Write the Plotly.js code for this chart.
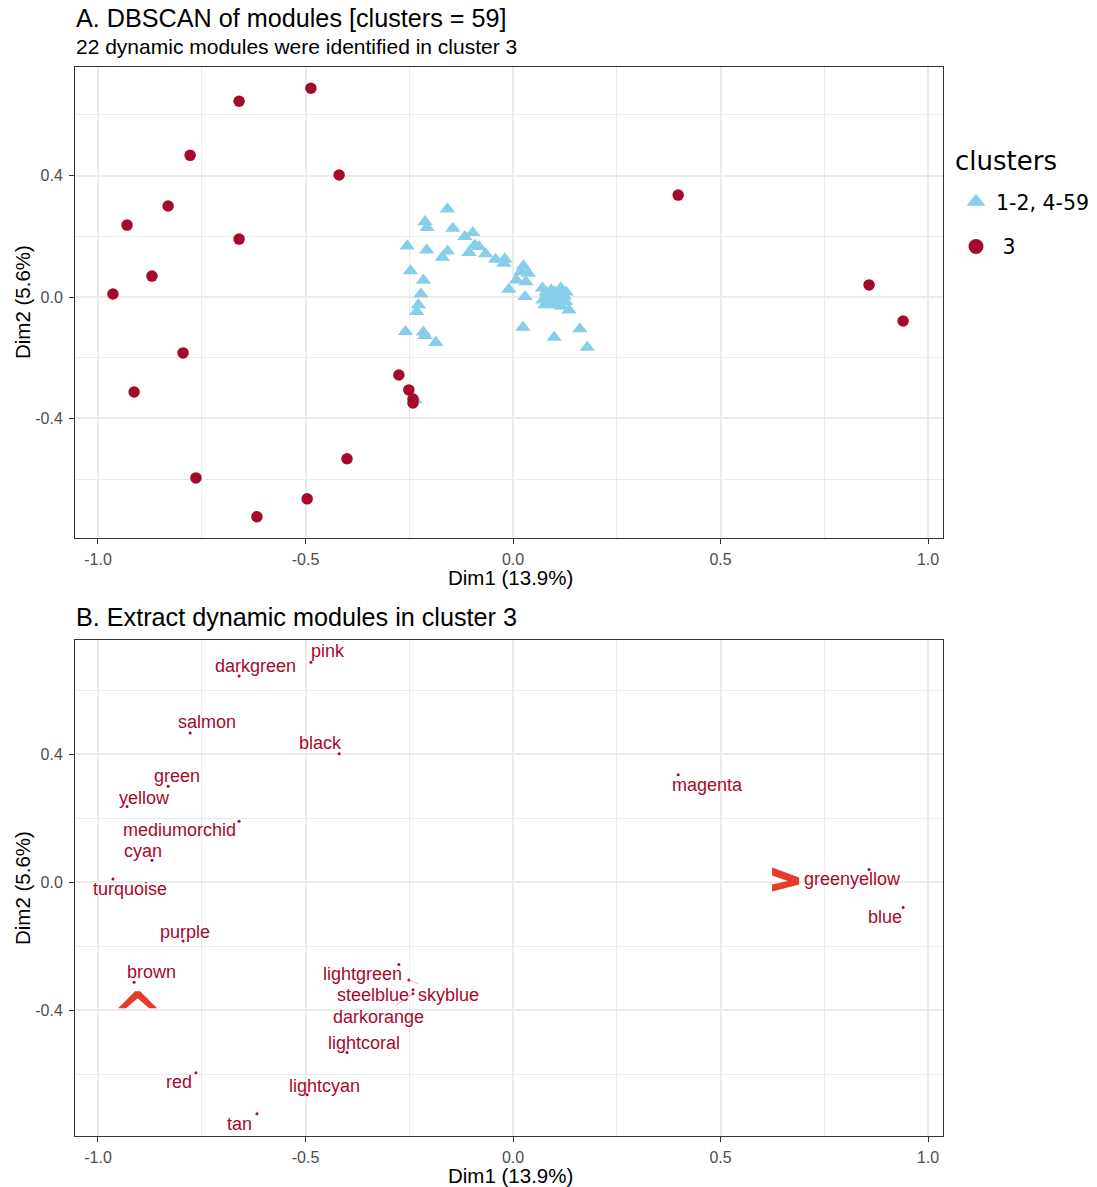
<!DOCTYPE html>
<html>
<head>
<meta charset="utf-8">
<script src="https://cdn.plot.ly/plotly-3.0.1.min.js"></script>
<style>html,body{margin:0;padding:0;background:#fff;}#chart{width:1097px;height:1187px;}</style>
</head>
<body>
<div id="chart"></div>
<script>
// ---------------- DATA ----------------
const modules = ['darkgreen','pink','salmon','black','green','yellow','mediumorchid','cyan','turquoise','purple','brown','lightgreen','skyblue','steelblue','darkorange','lightcoral','red','lightcyan','tan','magenta','greenyellow','blue'];
const moduleDim1 = [-0.660,-0.487,-0.778,-0.419,-0.831,-0.930,-0.660,-0.870,-0.964,-0.795,-0.913,-0.275,-0.251,-0.241,-0.241,-0.400,-0.764,-0.496,-0.617,0.398,0.858,0.940];
const moduleDim2 = [0.645,0.688,0.467,0.402,0.300,0.237,0.191,0.069,0.010,-0.184,-0.313,-0.257,-0.306,-0.336,-0.349,-0.533,-0.596,-0.665,-0.724,0.336,0.040,-0.079];

const otherDim1 = [-0.158,-0.212,-0.207,-0.145,-0.116,-0.097,-0.255,-0.208,-0.158,-0.170,-0.092,-0.082,-0.106,-0.066,-0.042,-0.020,-0.022,-0.247,-0.216,-0.222,-0.228,-0.232,-0.259,-0.216,-0.212,-0.186,-0.010,0.025,0.019,0.037,0.008,0.031,0.029,0.071,0.088,0.115,0.119,0.077,0.099,0.085,0.127,0.135,0.024,0.099,0.161,0.179,-0.236,0.082,0.101,0.108,0.092,0.123,0.106,0.072,0.116,0.094,0.128,0.080];
const otherDim2 = [0.290,0.248,0.229,0.226,0.199,0.212,0.168,0.155,0.151,0.131,0.171,0.166,0.146,0.142,0.124,0.125,0.111,0.086,0.055,0.010,-0.026,-0.048,-0.114,-0.116,-0.127,-0.150,0.025,0.102,0.083,0.078,0.056,0.050,0.001,0.029,0.012,0.029,0.012,-0.026,-0.026,-0.010,-0.015,-0.043,-0.100,-0.133,-0.105,-0.166,-0.339,0.003,0.016,-0.003,0.023,0.003,-0.020,-0.010,-0.030,-0.003,0.016,0.016];

const clusterNames = ['1-2, 4-59', '\u00a03'];
const xTickVals = [-1.0, -0.5, 0.0, 0.5, 1.0];
const xTickText = ['-1.0', '-0.5', '0.0', '0.5', '1.0'];
const xMinorVals = [-0.75, -0.25, 0.25, 0.75];
const yTickVals = [-0.4, 0.0, 0.4];
const yTickText = ['-0.4', '0.0', '0.4'];
const yMinorVals = [-0.6, -0.2, 0.2, 0.6];

// ---------------- STYLE ----------------
const RED = '#A50A2C';
const SKY = '#87CEEB';
const ARROW = '#E63A2A';
const FONT = 'Liberation Sans, Arial, sans-serif';
// label offsets in pixels [dx, dy(down)] relative to the point
const labelShift = {
  darkgreen:[16,-10], pink:[17,-11], salmon:[17,-11], black:[-19,-11], green:[9,-10], yellow:[17,-9],
  mediumorchid:[-60,9], cyan:[-9,-9], turquoise:[17,10], purple:[2,-9], brown:[17,-10],
  lightgreen:[-36,10], skyblue:[40,15], steelblue:[-40,5], darkorange:[-34,23], lightcoral:[17,-10],
  red:[-17,9], lightcyan:[17,-9], tan:[-17,10], magenta:[29,10], greenyellow:[-17,10], blue:[-18,10]
};
const withSegment = ['skyblue', 'darkorange'];

const W = 1097, H = 1187;
const M = {l:75, r:154, t:67, b:51, autoexpand: false};
const PW = W - M.l - M.r, PH = H - M.t - M.b;
const px = p => (p - M.l) / PW;
const py = p => (H - M.b - p) / PH;

const xr = [-1.0554, 1.0361];
const yr = [-0.794, 0.758];

function axisX(anchor) {
  return {
    anchor: anchor, range: xr, domain: [0,1],
    tickmode: 'array', tickvals: xTickVals, ticktext: xTickText,
    ticks: 'outside', ticklen: 5, tickwidth: 1, tickcolor: '#333333',
    ticklabelstandoff: 2,
    tickfont: {family: FONT, size: 16, color: '#4d4d4d'},
    showgrid: true, gridcolor: '#ebebeb', gridwidth: 2,
    minor: {tickmode: 'array', tickvals: xMinorVals, showgrid: true, gridcolor: '#ebebeb', gridwidth: 1, ticks: ''},
    zeroline: false, showline: true, linecolor: '#333333', linewidth: 1, mirror: true,
    fixedrange: true
  };
}
function axisY(anchor, domain) {
  return {
    anchor: anchor, range: yr, domain: domain,
    tickmode: 'array', tickvals: yTickVals, ticktext: yTickText,
    ticks: 'outside', ticklen: 5, tickwidth: 1, tickcolor: '#333333',
    ticklabelstandoff: 3,
    tickfont: {family: FONT, size: 16, color: '#4d4d4d'},
    showgrid: true, gridcolor: '#ebebeb', gridwidth: 2,
    minor: {tickmode: 'array', tickvals: yMinorVals, showgrid: true, gridcolor: '#ebebeb', gridwidth: 1, ticks: ''},
    zeroline: false, showline: true, linecolor: '#333333', linewidth: 1, mirror: true,
    fixedrange: true
  };
}

const traces = [
  {
    type: 'scatter', mode: 'markers', x: otherDim1, y: otherDim2, xaxis: 'x', yaxis: 'y',
    showlegend: false,
    marker: {symbol: 'triangle-up', size: 13.5, color: SKY, line: {width: 0}},
    hoverinfo: 'skip'
  },
  {
    type: 'scatter', mode: 'markers', x: moduleDim1, y: moduleDim2, xaxis: 'x', yaxis: 'y',
    showlegend: false,
    marker: {symbol: 'circle', size: 11.5, color: RED, line: {width: 0}},
    hoverinfo: 'skip'
  },
  // legend keys (enlarged, like ggplot override.aes)
  {
    type: 'scatter', mode: 'markers', x: [null], y: [null], xaxis: 'x', yaxis: 'y',
    name: clusterNames[0], legendgroup: 'a',
    marker: {symbol: 'triangle-up', size: 16, color: SKY, line: {width: 0}}
  },
  {
    type: 'scatter', mode: 'markers', x: [null], y: [null], xaxis: 'x', yaxis: 'y',
    name: clusterNames[1], legendgroup: 'b',
    marker: {symbol: 'circle', size: 15, color: RED, line: {width: 0}}
  },
  {
    type: 'scatter', mode: 'markers', x: moduleDim1, y: moduleDim2, xaxis: 'x2', yaxis: 'y2',
    showlegend: false,
    marker: {symbol: 'circle', size: 3, color: RED, line: {width: 0}},
    hoverinfo: 'skip'
  }
];

const annotations = [];
function txt(text, x, y, size, opts) {
  annotations.push(Object.assign({
    text: text, xref: 'paper', yref: 'paper', x: px(x), y: py(y),
    xanchor: 'left', yanchor: 'middle', showarrow: false,
    font: {family: FONT, size: size, color: '#000'}
  }, opts || {}));
}
txt('A. DBSCAN of modules [clusters = 59]', 74, 18, 25.2);
txt('22 dynamic modules were identified in cluster 3', 74, 47, 21);
txt('B. Extract dynamic modules in cluster 3', 74, 617, 25.2);
txt('Dim1 (13.9%)', 510, 577, 20.5, {xanchor: 'center'});
txt('Dim1 (13.9%)', 510, 1175, 20.5, {xanchor: 'center'});
txt('Dim2 (5.6%)', 22, 302, 20.5, {xanchor: 'center', textangle: -90});
txt('Dim2 (5.6%)', 22, 888, 20.5, {xanchor: 'center', textangle: -90});
txt('clusters', 953, 161, 26, {font: {family: 'DejaVu Sans, sans-serif', size: 26, color: '#000'}});

modules.forEach((m, i) => {
  const s = labelShift[m];
  const base = {
    text: m, xref: 'x2', yref: 'y2', x: moduleDim1[i], y: moduleDim2[i],
    xanchor: 'center', yanchor: 'middle',
    font: {family: FONT, size: 18, color: RED}
  };
  if (withSegment.indexOf(m) >= 0) {
    annotations.push(Object.assign(base, {
      showarrow: true, ax: s[0], ay: s[1], arrowhead: 0, arrowwidth: 0.7,
      arrowcolor: '#e2858f', standoff: 0, startstandoff: 0
    }));
  } else {
    annotations.push(Object.assign(base, {showarrow: false, xshift: s[0], yshift: -s[1]}));
  }
});

// chevron pointers (pixel paths anchored at a module point)
const gi = modules.indexOf('greenyellow');
const bi = modules.indexOf('brown');
const shapes = [
  {
    type: 'path', xref: 'x2', yref: 'y2', xsizemode: 'pixel', ysizemode: 'pixel',
    xanchor: moduleDim1[gi], yanchor: moduleDim2[gi],
    path: 'M-97,2 L-70,-8 L-70,-15 L-97,-22 L-97,-15 L-81,-11.5 L-97,-6 Z',
    fillcolor: ARROW, line: {width: 0}
  },
  {
    type: 'path', xref: 'x2', yref: 'y2', xsizemode: 'pixel', ysizemode: 'pixel',
    xanchor: moduleDim1[bi], yanchor: moduleDim2[bi],
    path: 'M-16,-26 L1,-9 L6,-9 L23,-26 L15,-26 L3.5,-16 L-8,-26 Z',
    fillcolor: ARROW, line: {width: 0}
  }
];

const layout = {
  width: W, height: H,
  margin: M,
  paper_bgcolor: '#fff', plot_bgcolor: '#fff',
  showlegend: true,
  xaxis: axisX('y'),
  yaxis: axisY('x', [py(538), 1]),
  xaxis2: axisX('y2'),
  yaxis2: axisY('x2', [0, py(640)]),
  legend: {
    x: px(956), xanchor: 'left', y: py(182), yanchor: 'top',
    font: {family: 'DejaVu Sans, sans-serif', size: 20.5, color: '#000'},
    tracegroupgap: 15, itemsizing: 'trace', bgcolor: 'rgba(0,0,0,0)'
  },
  annotations: annotations,
  shapes: shapes
};

Plotly.newPlot('chart', traces, layout, {displayModeBar: false, staticPlot: true});
</script>
</body>
</html>
